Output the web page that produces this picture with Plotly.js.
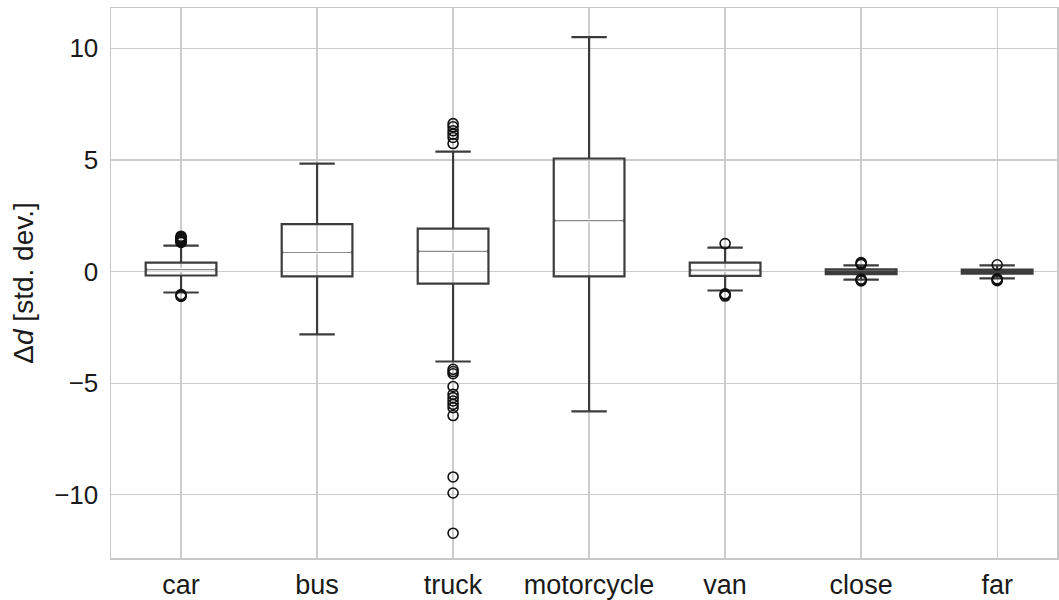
<!DOCTYPE html>
<html>
<head>
<meta charset="utf-8">
<script src="https://cdn.plot.ly/plotly-3.0.1.min.js"></script>
<style>html,body{margin:0;padding:0;background:#fff;}#chart{width:1059px;height:600px;}</style>
</head>
<body>
<div id="chart"></div>
<script>
var categories = ["car", "bus", "truck", "motorcycle", "van", "close", "far"];
var q1Values     = [-0.18, -0.22, -0.54, -0.22, -0.20, -0.12, -0.10];
var medianValues = [0.08, 0.85, 0.90, 2.28, 0.06, -0.02, -0.01];
var q3Values     = [0.40, 2.12, 1.92, 5.06, 0.40, 0.10, 0.08];
var lowerWhisker = [-0.94, -2.82, -4.03, -6.26, -0.85, -0.36, -0.31];
var upperWhisker = [1.16, 4.83, 5.37, 10.50, 1.07, 0.27, 0.27];
var outliers = [
  [1.30, 1.34, 1.38, 1.42, 1.46, 1.50, 1.54, 1.58, 1.36, 1.44, -1.03, -1.08, -1.12],
  [],
  [6.62, 6.48, 6.30, 6.15, 6.00, 5.73, -4.38, -4.48, -4.58, -5.15, -5.50, -5.65, -5.80, -5.95, -6.10, -6.45, -9.20, -9.92, -11.72],
  [],
  [1.25, -1.00, -1.05, -1.10],
  [0.32, 0.36, 0.40, -0.34, -0.38, -0.42],
  [0.30, -0.33, -0.37, -0.41]
];
var yTickVals = [-10, -5, 0, 5, 10];
var yTickText = ["\u221210", "\u22125", "0", "5", "10"];

var boxColor = "#3c3c3c";
var boxHalf = 0.26;
var traces = [];
categories.forEach(function (c, i) {
  var small = (q3Values[i] - q1Values[i]) < 0.5;
  traces.push({
    type: "box", x: [i], q1: [q1Values[i]], median: [medianValues[i]], q3: [q3Values[i]],
    lowerfence: [lowerWhisker[i]], upperfence: [upperWhisker[i]],
    width: boxHalf * 2, whiskerwidth: 0.5,
    line: {color: boxColor, width: 2.2},
    fillcolor: small ? "#8a8a8a" : "rgba(255,255,255,0)",
    boxpoints: false, hoverinfo: "skip", showlegend: false
  });
  if (!small) {
    traces.push({
      type: "scatter", mode: "lines", x: [i - boxHalf + 0.012, i + boxHalf - 0.012],
      y: [medianValues[i], medianValues[i]], line: {color: "#ffffff", width: 3.2},
      hoverinfo: "skip", showlegend: false
    });
    traces.push({
      type: "scatter", mode: "lines", x: [i - boxHalf + 0.008, i + boxHalf - 0.008],
      y: [medianValues[i], medianValues[i]], line: {color: "#8c8c8c", width: 1.2},
      hoverinfo: "skip", showlegend: false
    });
  }
  if (outliers[i].length) {
    traces.push({
      type: "scatter", mode: "markers",
      x: outliers[i].map(function () { return i; }), y: outliers[i],
      marker: {symbol: "circle-open", size: 10, color: "#111111", line: {width: 1.6, color: "#111111"}},
      hoverinfo: "skip", showlegend: false
    });
  }
});

var layout = {
  width: 1059, height: 600,
  margin: {l: 111, r: 2, t: 8, b: 42},
  paper_bgcolor: "#ffffff", plot_bgcolor: "#ffffff",
  font: {family: "Liberation Sans, Arial, sans-serif", color: "#1a1a1a", size: 26},
  showlegend: false,
  xaxis: {
    range: [-0.515, 6.44], tickmode: "array", tickvals: categories.map(function (c, i) { return i; }),
    ticktext: categories, showgrid: true, gridcolor: "#cccccc", gridwidth: 1.3,
    zeroline: false, showline: true, linecolor: "#c8c8c8", linewidth: 1.5, mirror: true,
    ticks: "", tickfont: {size: 27, color: "#1a1a1a"}, ticklabelstandoff: 2
  },
  yaxis: {
    range: [-12.83, 11.8], tickmode: "array", tickvals: yTickVals, ticktext: yTickText,
    showgrid: true, gridcolor: "#cccccc", gridwidth: 1.3, zeroline: false,
    showline: true, linecolor: "#c8c8c8", linewidth: 1.5, mirror: true,
    ticks: "", tickfont: {size: 26, color: "#1a1a1a"}, ticklabelstandoff: 6,
    title: {text: "\u0394<i>d</i> [std. dev.]", font: {size: 28, color: "#1a1a1a"}, standoff: 12}
  }
};
Plotly.newPlot("chart", traces, layout, {displayModeBar: false, staticPlot: true});
</script>
</body>
</html>
